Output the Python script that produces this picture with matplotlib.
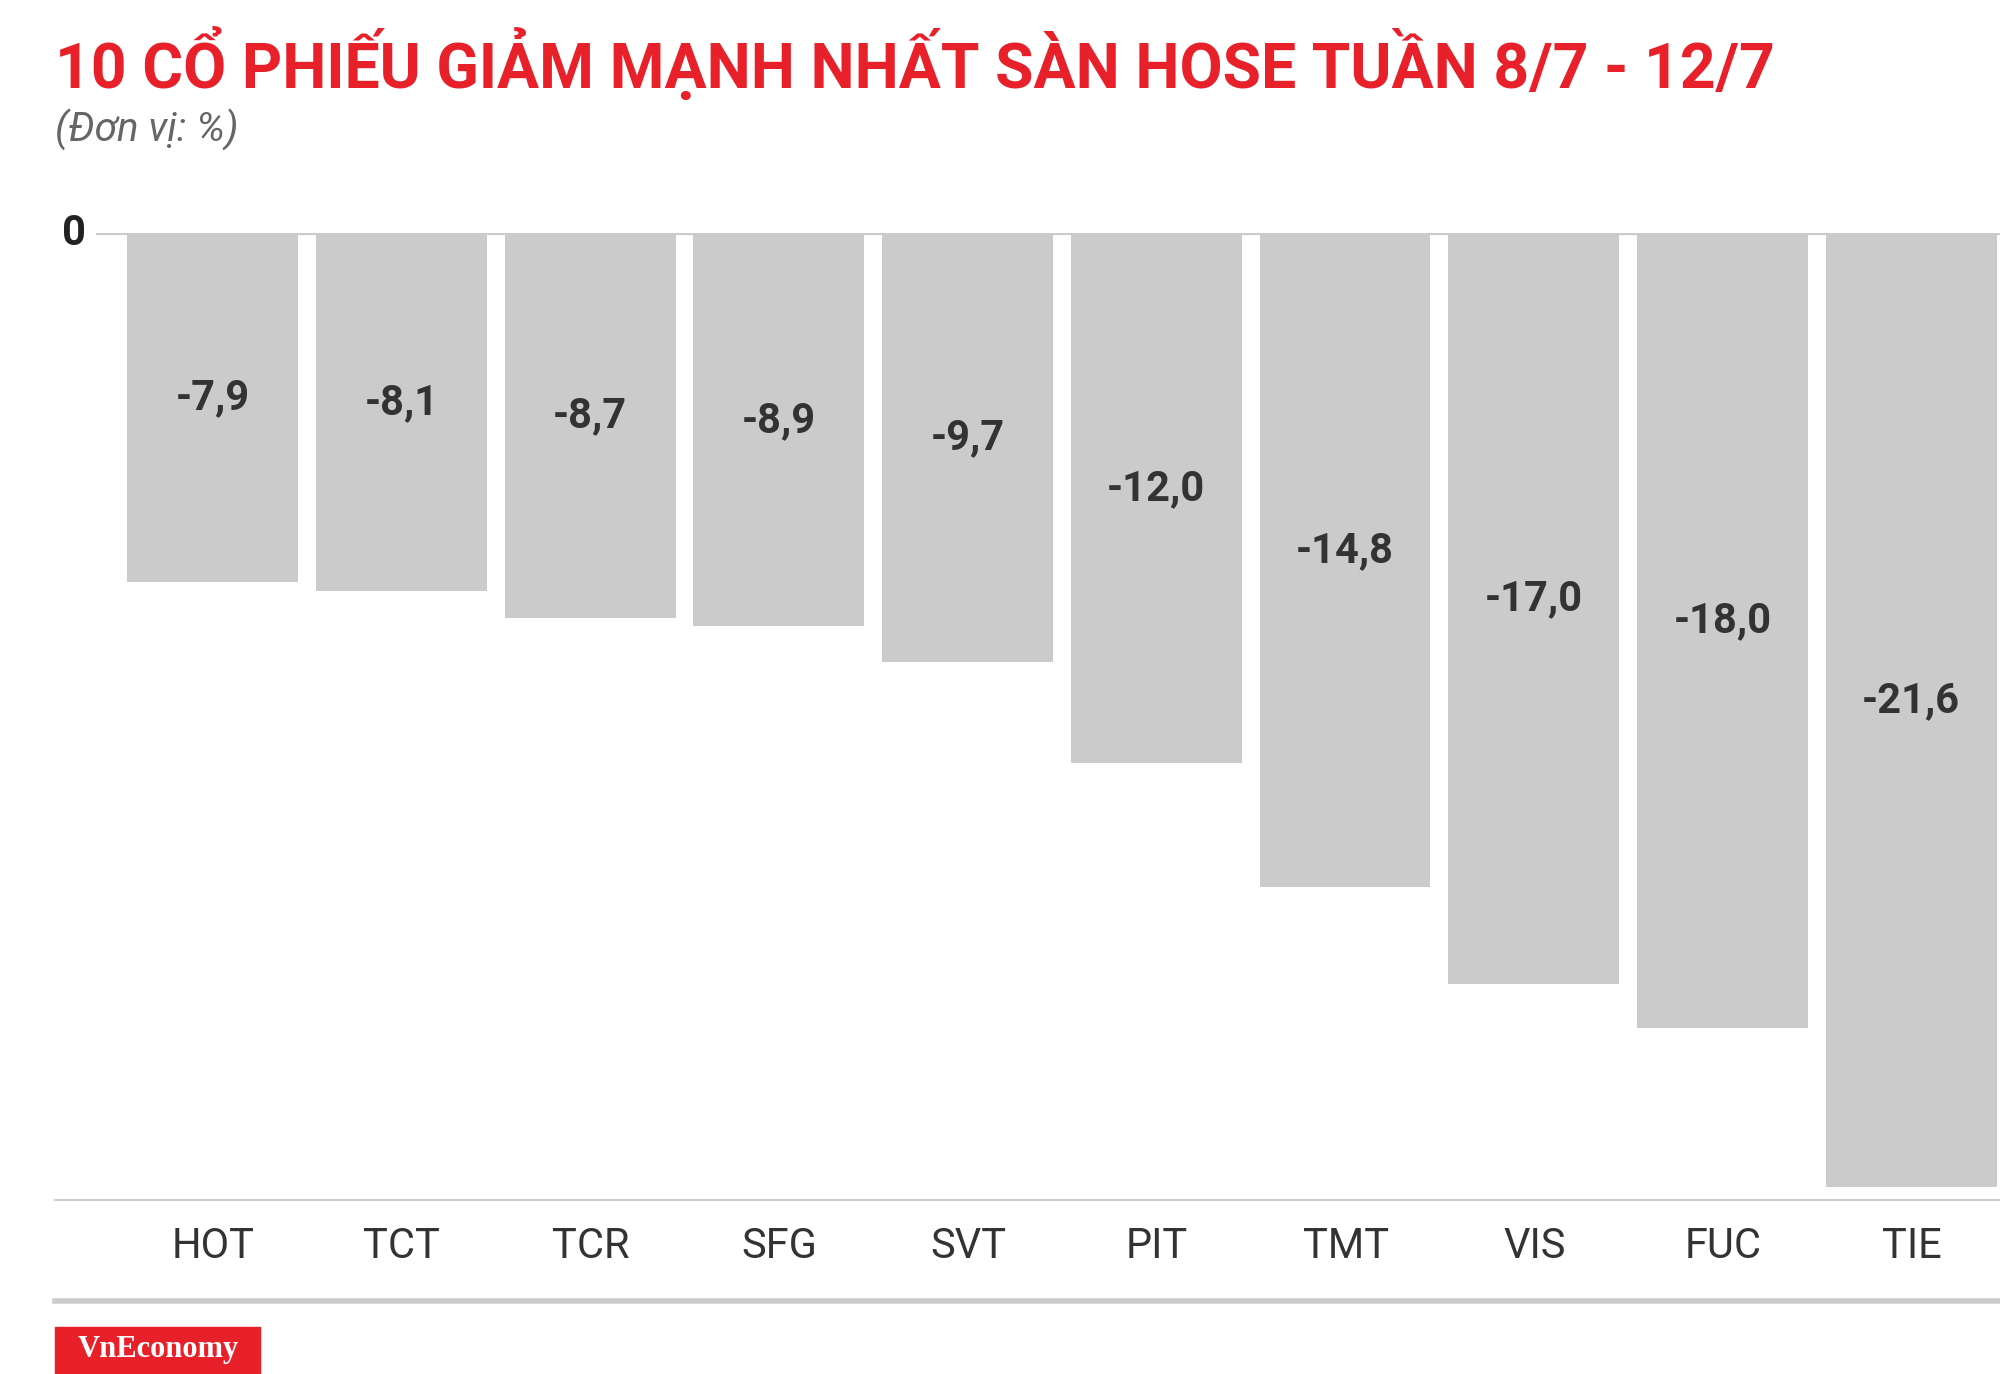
import matplotlib
matplotlib.use("Agg")
import matplotlib.pyplot as plt
from matplotlib.patches import Rectangle

TICKERS = ["HOT", "TCT", "TCR", "SFG", "SVT", "PIT", "TMT", "VIS", "FUC", "TIE"]
CHANGES = [-7.9, -8.1, -8.7, -8.9, -9.7, -12.0, -14.8, -17.0, -18.0, -21.6]
TITLE = "10 CỔ PHIẾU GIẢM MẠNH NHẤT SÀN HOSE TUẦN 8/7 - 12/7"

W, H = 1568, 1077  # layout measured in reference pixels
fig = plt.figure(figsize=(20, 13.74), dpi=100)
plt.rcParams["font.family"] = ["Roboto", "DejaVu Sans"]

def fx(x):
    return x / W

def fy(y):
    return 1 - y / H

ax = fig.add_axes([fx(75), fy(941), fx(1568 - 75), fy(183) - fy(941)])
x = list(range(len(TICKERS)))
ax.bar(x, CHANGES, width=0.905, color="#cccbcc")
ax.set_xlim(-0.62, 9.47)
ax.set_ylim(-21.9, 0)
for xi, v in zip(x, CHANGES):
    ax.annotate(f"{v:.1f}".replace(".", ","), (xi, v / 2), xytext=(0, 7),
                textcoords="offset points", ha="center", va="center",
                fontsize=30, fontweight="bold", color="#333333")
ax.axhline(0, color="#cccbcc", lw=3)
for s in ax.spines.values():
    s.set_visible(False)
ax.set_xticks([])
ax.set_yticks([])

fig.add_artist(plt.Line2D([fx(43), 1], [fy(941)] * 2, color="#cccccc", lw=1.5))
fig.add_artist(plt.Line2D([fx(43), 1], [fy(1020)] * 2, color="#cccccc", lw=4))
for xi, t in zip(x, TICKERS):
    fig.text(fx(167 + 148 * xi), fy(977), t, ha="center", va="center", fontsize=30, color="#333333")
fig.text(fx(58), fy(183), "0", ha="center", va="center", fontsize=30, fontweight="bold", color="#222222")

fig.text(fx(43), fy(50), TITLE, ha="left", va="center", fontsize=45, fontweight="bold", color="#e8202a")
fig.text(fx(43), fy(102), "(Đơn vị: %)", ha="left", va="center", fontsize=29, style="italic", color="#666666")

fig.patches.append(Rectangle((fx(43), 0), fx(204 - 43), fy(1040), transform=fig.transFigure,
                             color="#e8202a", figure=fig))
fig.text(fx(124), fy(1058), "VnEconomy", ha="center", va="center", fontsize=22,
         fontweight="bold", color="white", family=["Liberation Serif"])

fig.savefig("out.png", dpi=100)
